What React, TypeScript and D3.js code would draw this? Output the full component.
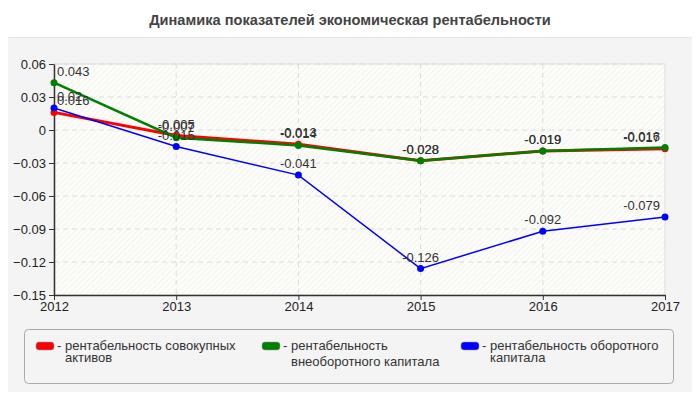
import React, { useEffect, useRef } from "react";
import * as d3 from "d3";

const years = [2012, 2013, 2014, 2015, 2016, 2017];
const seriesNames = [
  ["- рентабельность совокупных", "активов"],
  ["- рентабельность", "внеоборотного капитала"],
  ["- рентабельность оборотного", "капитала"],
];
const seriesColors = ["#ff0000", "#008000", "#0000ff"];
const redValues = [0.016, -0.005, -0.013, -0.028, -0.019, -0.017];
const greenValues = [0.043, -0.007, -0.014, -0.028, -0.019, -0.016];
const blueValues = [0.02, -0.015, -0.041, -0.126, -0.092, -0.079];
const yTicks = [0.06, 0.03, 0, -0.03, -0.06, -0.09, -0.12, -0.15];
const title = "Динамика показателей экономическая рентабельности";

export default function App() {
  const ref = useRef<SVGSVGElement>(null);
  useEffect(() => {
    const svg = d3.select(ref.current);
    svg.selectAll("*").remove();
    const W = 700, H = 400;
    const left = 54, right = 665, top = 64, bottom = 295;
    const font = "'Liberation Sans', Arial, sans-serif";
    const x = d3.scaleLinear().domain([2012, 2017]).range([left, right]);
    const y = d3.scaleLinear().domain([-0.15, 0.06]).range([bottom, top]);

    const defs = svg.append("defs");
    const pat = defs.append("pattern").attr("id", "hatch").attr("patternUnits", "userSpaceOnUse")
      .attr("width", 4).attr("height", 4).attr("patternTransform", "rotate(45)");
    pat.append("rect").attr("width", 4).attr("height", 4).attr("fill", "#fdfdf9");
    pat.append("line").attr("x1", 0).attr("y1", 0).attr("x2", 0).attr("y2", 4)
      .attr("stroke", "#ececec").attr("stroke-width", 1.2);

    svg.append("rect").attr("width", W).attr("height", H).attr("fill", "#ffffff");
    svg.append("rect").attr("x", 2.5).attr("y", 37.5).attr("width", 694).attr("height", 358)
      .attr("rx", 7).attr("fill", "#f4f4f4").attr("stroke", "#e2e2e2");

    svg.append("text").attr("x", 350).attr("y", 25).attr("text-anchor", "middle")
      .attr("font-family", font).attr("font-size", 14.6).attr("font-weight", "bold")
      .attr("fill", "#444").text(title);

    svg.append("rect").attr("x", left).attr("y", top).attr("width", right - left).attr("height", bottom - top)
      .attr("fill", "url(#hatch)").attr("stroke", "#dddddd");

    const g = svg.append("g");
    yTicks.forEach((t) => {
      if (t === -0.15) return;
      g.append("line").attr("x1", left).attr("x2", right).attr("y1", y(t)).attr("y2", y(t))
        .attr("stroke", "#dcdcdc").attr("stroke-dasharray", "5,4");
    });
    years.forEach((yr) => {
      if (yr === 2012 || yr === 2017) return;
      g.append("line").attr("x1", x(yr)).attr("x2", x(yr)).attr("y1", top).attr("y2", bottom)
        .attr("stroke", "#dcdcdc").attr("stroke-dasharray", "5,4");
    });

    const yAxis = d3.axisLeft(y).tickValues(yTicks).tickSize(5).tickSizeOuter(0)
      .tickFormat((d) => (d === 0 ? "0" : d3.format(".2f")(d as number)));
    const ya = svg.append("g").attr("transform", `translate(${left},0)`).call(yAxis);
    const xAxis = d3.axisBottom(x).tickValues(years).tickSize(5).tickSizeOuter(0).tickFormat(d3.format("d"));
    const xa = svg.append("g").attr("transform", `translate(0,${bottom})`).call(xAxis);
    [ya, xa].forEach((a) => {
      a.select(".domain").attr("stroke", "#333").attr("stroke-width", 1.5);
      a.selectAll(".tick line").attr("stroke", "#333");
      a.selectAll(".tick text").attr("font-family", font).attr("font-size", 13).attr("fill", "#222");
    });
    ya.selectAll(".tick text").attr("x", -8);
    xa.selectAll(".tick text").attr("y", 7);

    const all = [redValues, greenValues, blueValues];
    const widths = [3, 2.5, 1.5];
    const line = d3.line<number>().x((_, i) => x(years[i])).y((d) => y(d));
    all.forEach((vals, si) => {
      svg.append("path").attr("d", line(vals)!).attr("fill", "none")
        .attr("stroke", seriesColors[si]).attr("stroke-width", widths[si]);
      vals.forEach((v, i) => {
        svg.append("circle").attr("cx", x(years[i])).attr("cy", y(v)).attr("r", 3.5)
          .attr("fill", seriesColors[si]);
      });
    });
    all.forEach((vals) => {
      vals.forEach((v, i) => {
        const t = svg.append("text").attr("font-family", font).attr("font-size", 13)
          .attr("fill", "#333").attr("y", y(v) - 7).text(String(v));
        const w = (t.node() as SVGTextElement).getComputedTextLength();
        let tx = x(years[i]) - w / 2;
        tx = Math.max(left + 3, Math.min(right - 5 - w, tx));
        t.attr("x", tx);
      });
    });

    svg.append("rect").attr("x", 24.5).attr("y", 329.5).attr("width", 649).attr("height", 54)
      .attr("rx", 4).attr("fill", "#f4f4f4").attr("stroke", "#aaaaaa");
    const lx = [36, 262, 461];
    seriesNames.forEach((lines, i) => {
      svg.append("rect").attr("x", lx[i]).attr("y", 342).attr("width", 18).attr("height", 8)
        .attr("rx", 3).attr("fill", seriesColors[i]).attr("stroke", "#999").attr("stroke-width", 0.5);
      svg.append("text").attr("x", lx[i] + 21).attr("y", 350).attr("font-family", font)
        .attr("font-size", 13).attr("fill", "#333").text(lines[0]);
      svg.append("text").attr("x", lx[i] + 29).attr("y", i === 1 ? 366 : 362).attr("font-family", font)
        .attr("font-size", 13).attr("fill", "#333").text(lines[1]);
    });
  }, []);
  return <svg ref={ref} width={700} height={400} style={{ display: "block", margin: -8 }} />;
}
